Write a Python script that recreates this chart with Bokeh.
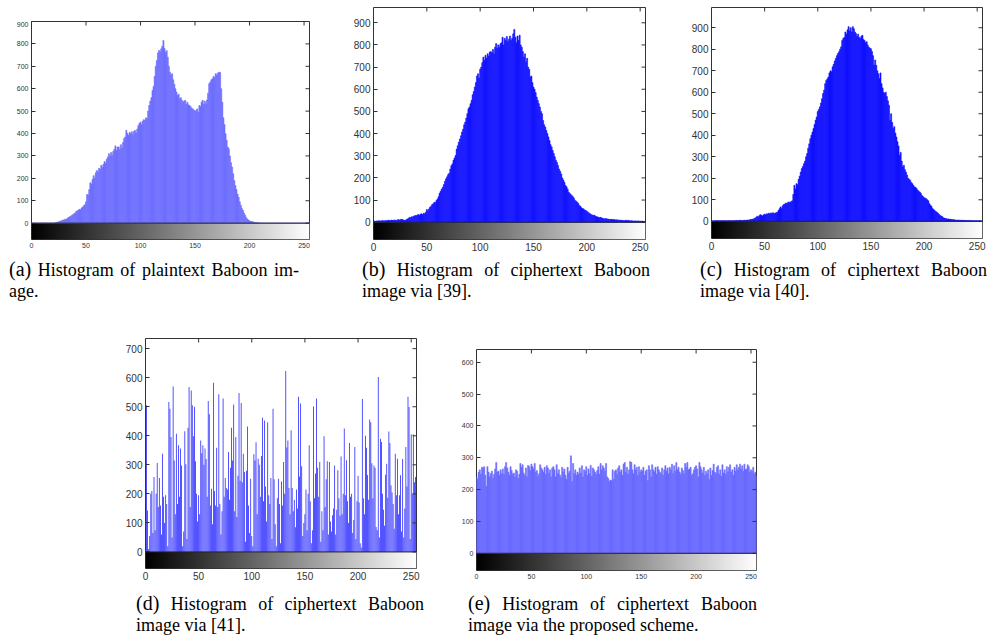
from bokeh.plotting import figure
from bokeh.layouts import row, column, Spacer
from bokeh.models import Range1d, FixedTicker, Span, Div
from bokeh.embed import file_html
from bokeh.resources import INLINE
import numpy as np

bins = list(range(256))
x_ticks = [0, 50, 100, 150, 200, 250]

hist_a = [0] * 22 + [
    2, 3, 5, 6, 8, 10, 12, 14,
    15, 18, 17, 22, 25, 28, 30, 35, 38, 42,
    45, 52, 55, 58, 62, 60, 68, 72, 78, 82,
    95, 128, 125, 150, 180, 175, 195, 212, 200, 225,
    235, 228, 245, 240, 258, 250, 262, 275, 268, 285,
    295, 310, 300, 315, 302, 320, 330, 345, 325, 340,
    340, 328, 350, 335, 360, 378, 385, 414, 400, 392,
    405, 400, 408, 395, 410, 414, 402, 420, 435, 445,
    451, 440, 455, 462, 458, 470, 466, 500, 525, 545,
    560, 592, 610, 655, 700, 726, 760, 771, 765, 778,
    790, 815, 780, 763, 770, 740, 700, 674, 660, 667,
    640, 620, 600, 585, 570, 575, 555, 560, 548, 540,
    545, 548, 530, 540, 528, 525, 520, 512, 510, 505,
    500, 503, 510, 495, 525, 520, 540, 548, 530, 545,
    533, 550, 580, 622, 630, 640, 644, 655, 650, 667,
    660, 670, 674, 672, 600, 540, 470, 440, 399, 370,
    340, 332, 300, 270, 250, 220, 190, 168, 150, 130,
    116, 95, 80, 65, 57, 45, 35, 24, 18, 14,
    10, 8, 7, 6, 4, 3, 3, 2, 1, 1,
] + [0] * 46

hist_b = [
    3, 5, 4, 6, 5, 7, 6, 5, 8, 6,
    7, 6, 8, 7, 9, 8, 7, 10, 8, 9,
    10, 9, 8, 12, 10, 11, 13, 12, 10, 9,
    8, 12, 15, 18, 22, 20, 25, 24, 28, 30,
    29, 32, 35, 30, 36, 38, 34, 40, 38, 45,
    57, 52, 60, 68, 72, 80, 83, 90, 88, 98,
    105, 115, 131, 140, 150, 158, 170, 185, 196, 205,
    215, 221, 240, 255, 263, 280, 290, 301, 330, 345,
    361, 375, 390, 407, 420, 440, 452, 470, 490, 512,
    520, 535, 550, 575, 590, 610, 630, 660, 670, 650,
    690, 700, 720, 745, 730, 753, 740, 760, 750, 768,
    770, 765, 780, 760, 790, 806, 785, 800, 790, 805,
    810, 835, 800, 830, 820, 838, 815, 826, 840, 820,
    830, 850, 870, 835, 810, 840, 820, 844, 800, 790,
    770, 745, 760, 723, 740, 700, 690, 655, 660, 630,
    610, 600, 585, 565, 550, 535, 520, 500, 490, 459,
    440, 430, 414, 400, 385, 369, 350, 340, 324, 310,
    295, 280, 270, 256, 240, 230, 218, 200, 190, 180,
    166, 160, 150, 136, 130, 125, 120, 115, 108, 98,
    95, 90, 85, 75, 72, 65, 62, 60, 55, 53,
    50, 45, 42, 38, 35, 33, 30, 32, 28, 25,
    24, 22, 20, 22, 19, 18, 16, 15, 17, 15,
    14, 13, 12, 13, 12, 11, 12, 10, 11, 10,
    9, 10, 8, 9, 8, 7, 8, 9, 7, 8,
    7, 6, 7, 6, 5, 6, 6, 5, 6, 5,
    5, 4, 5, 4, 3, 4,
]

hist_c = [
    1, 2, 1, 2, 3, 2, 3, 2, 2, 3,
    2, 3, 2, 3, 2, 2, 3, 2, 3, 2,
    3, 2, 3, 4, 3, 4, 3, 5, 4, 3,
    4, 5, 4, 5, 6, 5, 7, 8, 9, 10,
    12, 15, 18, 23, 20, 26, 31, 28, 25, 30,
    33, 30, 35, 33, 38, 34, 39, 36, 40, 35,
    38, 40, 42, 50, 58, 67, 60, 72, 78, 80,
    85, 82, 88, 90, 86, 92, 95, 125, 167, 150,
    175, 170, 195, 210, 229, 245, 255, 268, 280, 300,
    315, 340, 360, 384, 400, 415, 431, 450, 470, 485,
    510, 520, 532, 550, 570, 594, 610, 640, 655, 662,
    671, 690, 700, 695, 718, 730, 745, 757, 770, 780,
    788, 800, 811, 840, 850, 855, 880, 870, 890, 905,
    885, 900, 880, 905, 895, 880, 873, 860, 870, 855,
    850, 860, 865, 845, 841, 830, 835, 820, 810, 805,
    802, 790, 770, 726, 750, 725, 700, 686, 664, 690,
    640, 620, 600, 594, 600, 580, 560, 540, 470, 500,
    460, 431, 440, 410, 392, 370, 350, 307, 320, 280,
    253, 260, 240, 229, 215, 200, 195, 190, 180, 175,
    167, 160, 158, 152, 145, 140, 136, 130, 120, 115,
    110, 108, 105, 100, 95, 82, 75, 70, 59, 55,
    50, 45, 43, 38, 33, 28, 25, 22, 17, 15,
    13, 12, 10, 11, 9, 9, 8, 7, 8, 6,
    6, 5, 6, 5, 5, 4, 5, 4, 4, 3,
    4, 3, 3, 4, 3, 3, 2, 3, 2, 3,
    2, 2, 3, 2, 1, 2,
]

hist_d = [
    10, 505, 143, 10, 55, 200, 210, 65, 258, 75,
    200, 306, 155, 255, 160, 60, 338, 190, 100, 195,
    165, 20, 516, 493, 396, 50, 570, 315, 130, 407,
    165, 367, 190, 356, 298, 20, 70, 416, 302, 45,
    428, 568, 155, 556, 505, 398, 500, 312, 200, 105,
    195, 130, 384, 340, 367, 300, 356, 320, 190, 520,
    474, 160, 218, 95, 583, 210, 160, 359, 155, 543,
    165, 60, 140, 528, 190, 255, 220, 215, 344, 180,
    290, 428, 315, 508, 140, 396, 120, 262, 547, 245,
    513, 240, 338, 275, 35, 280, 432, 160, 65, 252,
    55, 20, 336, 315, 378, 130, 321, 300, 190, 330,
    462, 175, 453, 225, 105, 447, 195, 165, 255, 45,
    493, 250, 95, 20, 185, 252, 165, 30, 243, 160,
    310, 200, 623, 360, 384, 220, 130, 419, 220, 140,
    180, 85, 215, 150, 534, 260, 511, 295, 55, 100,
    130, 215, 75, 200, 367, 175, 30, 75, 501, 185,
    270, 528, 290, 190, 310, 35, 140, 75, 398, 155,
    250, 312, 60, 310, 105, 70, 126, 150, 298, 60,
    145, 281, 185, 125, 329, 130, 200, 425, 195, 316,
    175, 100, 375, 190, 200, 65, 110, 361, 45, 175,
    262, 170, 30, 15, 527, 185, 130, 400, 359, 265,
    180, 456, 447, 305, 185, 298, 290, 86, 75, 602,
    50, 390, 379, 200, 145, 90, 266, 304, 187, 415,
    375, 230, 205, 165, 80, 338, 195, 321, 130, 195,
    264, 70, 320, 50, 150, 361, 225, 534, 499, 45,
    404, 200, 404, 240, 258, 163,
]

hist_e = [
    240, 232, 255, 262, 248, 270, 268, 272, 245, 210,
    272, 255, 240, 250, 258, 235, 248, 265, 285, 255,
    258, 245, 262, 250, 265, 248, 272, 285, 268, 255,
    245, 272, 260, 248, 252, 240, 262, 258, 235, 248,
    282, 270, 278, 252, 245, 268, 240, 276, 272, 260,
    280, 272, 265, 282, 255, 260, 242, 250, 278, 268,
    262, 255, 270, 248, 275, 268, 252, 262, 240, 268,
    272, 262, 240, 278, 250, 262, 246, 238, 270, 255,
    265, 245, 232, 270, 252, 258, 306, 225, 282, 250,
    262, 245, 255, 248, 268, 252, 275, 240, 262, 258,
    272, 245, 265, 250, 276, 242, 268, 262, 255, 248,
    260, 272, 248, 282, 262, 275, 268, 258, 282, 240,
    235, 225, 230, 228, 262, 232, 258, 262, 248, 268,
    275, 255, 262, 245, 280, 285, 255, 270, 248, 262,
    288, 285, 262, 250, 278, 262, 270, 245, 272, 255,
    262, 258, 270, 245, 258, 262, 228, 275, 262, 240,
    278, 262, 256, 270, 248, 272, 262, 255, 250, 268,
    245, 262, 275, 258, 268, 250, 270, 262, 280, 250,
    275, 258, 285, 262, 270, 255, 248, 268, 260, 250,
    282, 270, 285, 262, 265, 270, 245, 250, 262, 270,
    275, 265, 240, 285, 272, 262, 252, 270, 245, 258,
    250, 262, 232, 268, 245, 260, 280, 255, 250, 270,
    275, 248, 262, 242, 278, 252, 262, 248, 272, 255,
    270, 278, 255, 262, 245, 270, 258, 278, 262, 270,
    280, 265, 275, 258, 280, 262, 265, 278, 272, 255,
    262, 258, 270, 250, 255, 242,
]

caption_tags = ["(a)", "(b)", "(c)", "(d)", "(e)"]
caption_line1 = ["Histogram of plaintext Baboon im-",
                 "Histogram of ciphertext Baboon",
                 "Histogram of ciphertext Baboon",
                 "Histogram of ciphertext Baboon",
                 "Histogram of ciphertext Baboon"]
caption_line2 = ["age.", "image via [39].", "image via [40].",
                 "image via [41].", "image via the proposed scheme."]

GRAY = ["#%02x%02x%02x" % (i, i, i) for i in range(256)]
TICK_FONT = "Liberation Sans"
CAP_FONT = "Liberation Serif"
BB = 16  # space under each plot frame for the tick labels


def panel(values, y_lo, y_hi, bar_color, bar_w, fw, fh, bl, br, tick_size):
    p = figure(frame_width=fw, frame_height=fh, title=None,
               x_range=Range1d(0, 255), y_range=Range1d(y_lo, y_hi),
               output_backend="svg", toolbar_location=None,
               min_border_left=bl, min_border_right=br,
               min_border_top=0, min_border_bottom=BB)
    p.grid.visible = False
    p.background_fill_color = "white"
    p.border_fill_color = "white"
    p.outline_line_color = "#333333"
    p.outline_line_width = 1

    # grey-level colour bar below zero
    p.image(image=[np.arange(256, dtype=float).reshape(1, 256)],
            x=0, y=y_lo, dw=255, dh=-y_lo, palette=GRAY)
    if bar_w >= 1.0:
        p.vbar(x=bins, top=values, bottom=0, width=bar_w,
               fill_color=bar_color, line_color=bar_color, line_width=0.6)
    else:
        p.vbar(x=bins, top=values, bottom=0, width=bar_w,
               fill_color=bar_color, line_color=None)
    p.add_layout(Span(location=0, dimension="width",
                      line_color="#222222", line_width=1))

    y_ticks = list(range(0, int(y_hi) + 1, 100))
    # inward ticks on the top and right edges of the box
    dy = 4.0 * (y_hi - y_lo) / fh
    dx = 4.0 * 255.0 / fw
    p.segment(x0=x_ticks, y0=[y_hi] * len(x_ticks), x1=x_ticks,
              y1=[y_hi - dy] * len(x_ticks), line_color="#333333", line_width=1)
    p.segment(x0=[255] * len(y_ticks), y0=y_ticks, x1=[255 - dx] * len(y_ticks),
              y1=y_ticks, line_color="#333333", line_width=1)

    xa = p.xaxis[0]
    xa.ticker = FixedTicker(ticks=x_ticks)
    xa.major_tick_in = 0
    xa.major_tick_out = 0
    xa.minor_tick_in = 0
    xa.minor_tick_out = 0
    xa.axis_line_color = None
    xa.major_label_standoff = 3
    xa.major_label_text_font = TICK_FONT
    xa.major_label_text_font_size = tick_size
    xa.major_label_text_color = "#333333"

    ya = p.yaxis[0]
    ya.ticker = FixedTicker(ticks=y_ticks)
    ya.major_tick_in = 4
    ya.major_tick_out = 0
    ya.minor_tick_in = 0
    ya.minor_tick_out = 0
    ya.axis_line_color = None
    ya.major_tick_line_color = "#333333"
    ya.major_label_standoff = 3
    ya.major_label_text_font = TICK_FONT
    ya.major_label_text_font_size = tick_size
    ya.major_label_text_color = "#333333"
    return p


def caption(idx, w, h, pad_left, pad_top, line_w):
    html = (
        '<div style="font-family:\'Liberation Serif\',serif; font-size:18px; '
        'line-height:21px; color:#000; white-space:nowrap; '
        'padding-left:%dpx; padding-top:%dpx;">'
        '<div style="width:%dpx; text-align:justify; text-align-last:justify;">'
        '<span style="font-size:20px">%s</span> %s</div>'
        '<div>%s</div></div>'
    ) % (pad_left, pad_top, line_w, caption_tags[idx], caption_line1[idx],
         caption_line2[idx])
    return Div(text=html, width=w, height=h, margin=(0, 0, 0, 0))


# ---- top row (page y 0..310) --------------------------------------------
pa = panel(hist_a, -73, 900, "#6e6eff", 1.0, 278, 218, 31, 14, "7px")
ca = caption(0, 31 + 278 + 14, 55, 9, 4, 290)
col_a = column(Spacer(width=10, height=21), pa, ca)

pb = panel(hist_b, -78, 969, "#1414ff", 1.0, 272, 232, 50, 10, "10px")
cb = caption(1, 50 + 272 + 10, 55, 39, 4, 288)
col_b = column(Spacer(width=10, height=7), pb, cb)

pc = panel(hist_c, -80, 994, "#1010ff", 1.0, 271, 231, 56, 10, "10px")
cc = caption(2, 56 + 271 + 10, 56, 45, 5, 287)
col_c = column(Spacer(width=10, height=7), pc, cc)

# ---- bottom row (page y 310..638) ---------------------------------------
pd = panel(hist_d, -57, 735, "#1a1aff", 0.7, 271, 230, 40, 14, "10px")
cd = caption(3, 40 + 271 + 14, 54, 31, 9, 288)
col_d = column(Spacer(width=10, height=28), pd, cd)

pe = panel(hist_e, -54, 640, "#6a6aff", 1.0, 280, 221, 46, 14, "7px")
ce = caption(4, 46 + 280 + 14, 52, 38, 7, 289)
col_e = column(Spacer(width=10, height=39), pe, ce)

layout = column(row(col_a, col_b, col_c),
                row(Spacer(width=105, height=10), col_d, col_e))

open("out.html", "w").write(file_html(layout, INLINE))
